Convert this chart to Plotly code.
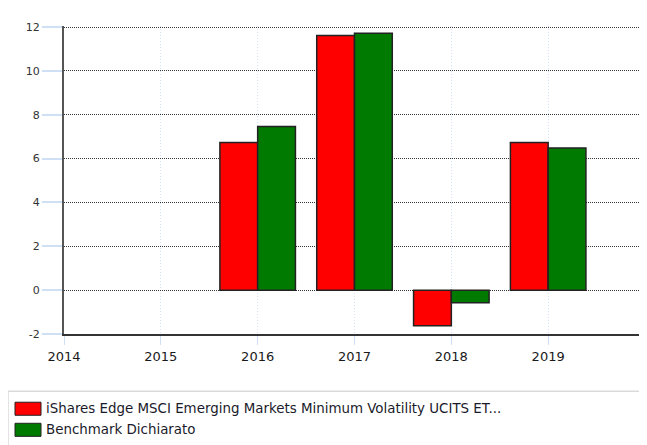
import plotly.graph_objects as go

years = [2014, 2015, 2016, 2017, 2018, 2019]
fund_name = "iShares Edge MSCI Emerging Markets Minimum Volatility UCITS ET..."
bench_name = "Benchmark Dichiarato"
fund_values = [None, None, 6.73, 11.62, -1.62, 6.74]
bench_values = [None, None, 7.47, 11.72, -0.58, 6.49]
y_ticks = [-2, 0, 2, 4, 6, 8, 10, 12]
y_tick_labels = ["-2", "0", "2", "4", "6", "8", "10", "12"]

RED = "#FF0000"
GREEN = "#007A00"
FONT = "DejaVu Sans"

# page body has an 8px default margin: figure occupies window x 8..647, y 8..445
OFF = 8
PL, PR, PT, PB = 64, 645, 27, 334  # plot area in window pixels
PW, PH = PR - PL, PB - PT


def px(x):
    return (x - PL) / PW


def py(y):
    return (PB - y) / PH


fig = go.Figure()
fig.add_trace(go.Bar(x=years, y=fund_values, name=fund_name,
                     marker=dict(color=RED, line=dict(color="#222222", width=1.5))))
fig.add_trace(go.Bar(x=years, y=bench_values, name=bench_name,
                     marker=dict(color=GREEN, line=dict(color="#222222", width=1.5))))

fig.update_layout(
    width=647 - OFF, height=445 - OFF,
    margin=dict(l=PL - OFF, r=647 - PR, t=PT - OFF - 1, b=445 - PB, autoexpand=False),
    paper_bgcolor="white", plot_bgcolor="white",
    barmode="group", bargap=0.22, bargroupgap=0,
    showlegend=False,
    font=dict(family=FONT, color="#222222"),
)
fig.update_xaxes(
    range=[2014, 2020], tickmode="array", tickvals=years,
    ticktext=[str(y) for y in years],
    showgrid=True, gridcolor="#d6e4f5", griddash="1px,2px", gridwidth=1,
    ticks="outside", ticklen=9, tickcolor="#cfe0f5", tickwidth=1,
    showline=True, linecolor="#333333", linewidth=2,
    tickfont=dict(size=13, color="#1a1a1a", family=FONT),
    zeroline=False, automargin=False,
)
fig.update_yaxes(
    range=[-2, 12.05], tickmode="array", tickvals=y_ticks, ticktext=y_tick_labels,
    showgrid=True, gridcolor="#333333", griddash="1px,1px", gridwidth=1,
    ticks="outside", ticklen=20, tickcolor="#cfe0f5", tickwidth=2,
    showline=True, linecolor="#555555", linewidth=2,
    tickfont=dict(size=11, color="#333333", family=FONT),
    zeroline=False, automargin=False,
)

# legend box drawn manually
fig.add_shape(type="rect", xref="paper", yref="paper",
              x0=px(8), x1=px(645), y0=py(460), y1=py(391),
              line=dict(color="#c8c8c8", width=1), fillcolor="white")
legend_items = [(fund_name, RED, 408), (bench_name, GREEN, 429)]
for name, col, yc in legend_items:
    fig.add_shape(type="rect", xref="paper", yref="paper",
                  x0=px(15), x1=px(41), y0=py(yc + 7), y1=py(yc - 6),
                  line=dict(color="#222222", width=1), fillcolor=col)
    fig.add_annotation(xref="paper", yref="paper", x=px(44), y=py(yc),
                       text=name, showarrow=False, xanchor="left", yanchor="middle",
                       font=dict(size=13.4, color="#1a1a2a", family=FONT))

fig.write_html("out.html")
